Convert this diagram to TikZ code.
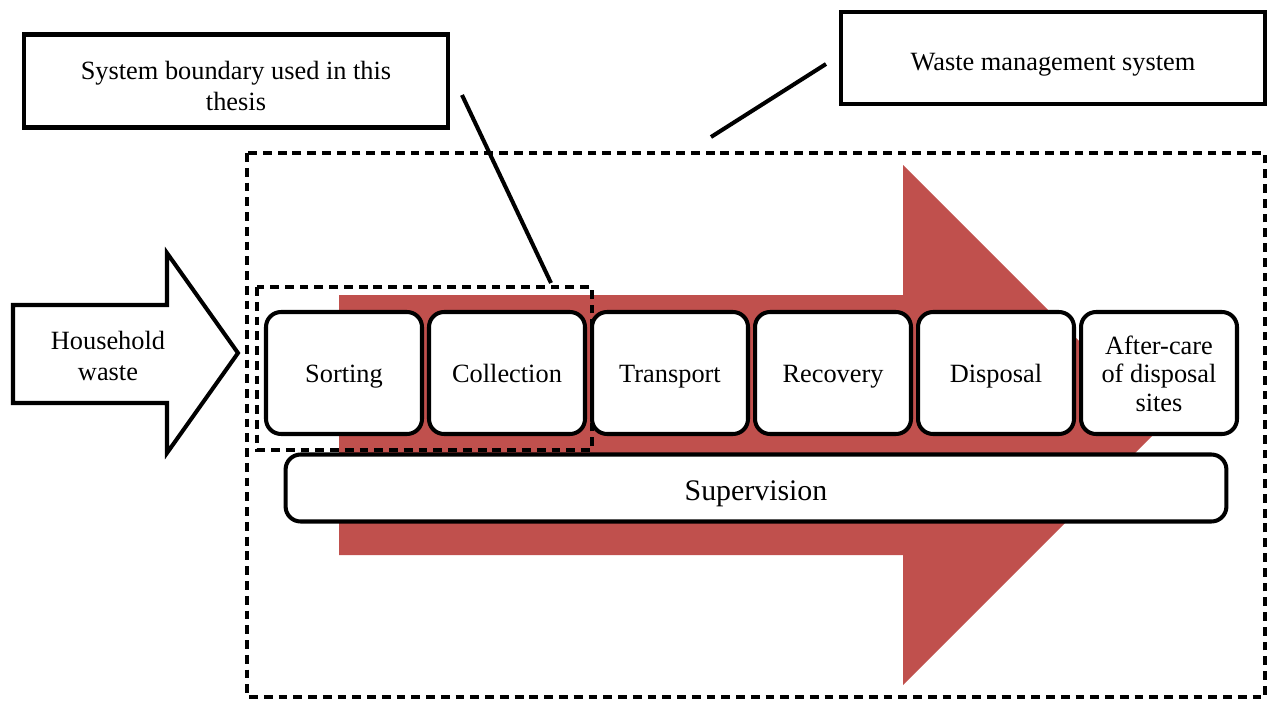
\documentclass[tikz,border=0pt]{standalone}
\usepackage{fontspec}
\setmainfont{Liberation Serif}
\usetikzlibrary{positioning}
\definecolor{wastered}{RGB}{192, 80, 77}
% invisible rule that adds height above the first line
\newcommand{\highrule}[1]{\rule{0pt}{#1}}

\begin{document}
\begin{tikzpicture}[
    x=0.02cm, y=-0.02cm,
    stp/.style={draw, line width=2.3pt, rounded corners=0.3cm, fill=white, minimum width=3.12cm, minimum height=2.44cm, align=center, inner sep=2pt, font=\fontsize{15}{16.2}\selectfont},
    cbox/.style={draw, line width=2.3pt, fill=white, align=center, font=\fontsize{15}{17.5}\selectfont},
    bnd/.style={line width=2.2pt, dash pattern=on 5pt off 3.4pt},
    lnk/.style={line width=2.3pt}
  ]
  \useasboundingbox (0,0) rectangle (1268,700);

  % red flow arrow
  \fill[wastered] (339,295) -- (903,295) -- (903,165) -- (1163,425) -- (903,685) -- (903,555) -- (339,555) -- cycle;

  % waste management system boundary
  \draw[bnd] (247,153) rectangle (1265,697);

  % household waste input
  \draw[lnk, fill=white] (13,305) -- (167,305) -- (167,253) -- (238,353) -- (167,453) -- (167,403) -- (13,403) -- cycle;
  \node[align=center, font=\fontsize{15}{17.5}\selectfont] (hw) at (108,356) {Household\\waste};

  % process steps
  \foreach \nm/\txt [count=\i] in {srt/Sorting, col/Collection, trn/Transport, rec/Recovery, dsp/Disposal} {
    \node[stp] (\nm) at ({344+163*(\i-1)}, 373) {\highrule{16pt}\strut\txt};
  }
  \node[stp] (aft) at (1159,373) {\strut After-care\\of disposal\\sites};
  \node[cbox, rounded corners=0.3cm, minimum width=18.82cm, minimum height=1.34cm, font=\fontsize{17}{19}\selectfont] (sup) at (756,488) {\highrule{20pt}\strut Supervision};

  % thesis boundary
  \draw[bnd] (257,287) rectangle (592,450);

  % callouts
  \node[cbox, minimum width=8.48cm, minimum height=1.86cm] (sb) at (236,81) {\highrule{21pt}\strut System boundary used in this\\thesis\strut};
  \node[cbox, minimum width=8.5cm, minimum height=1.84cm] (wm) at (1053,58) {\highrule{19pt}\strut Waste management system};
  \coordinate (sbA) at (462,95);
  \coordinate (sbB) at (551,283);
  \coordinate (wmA) at (826,64);
  \coordinate (wmB) at (711,137);
  \draw[lnk] (sbA) -- (sbB);
  \draw[lnk] (wmA) -- (wmB);
\end{tikzpicture}
\end{document}
